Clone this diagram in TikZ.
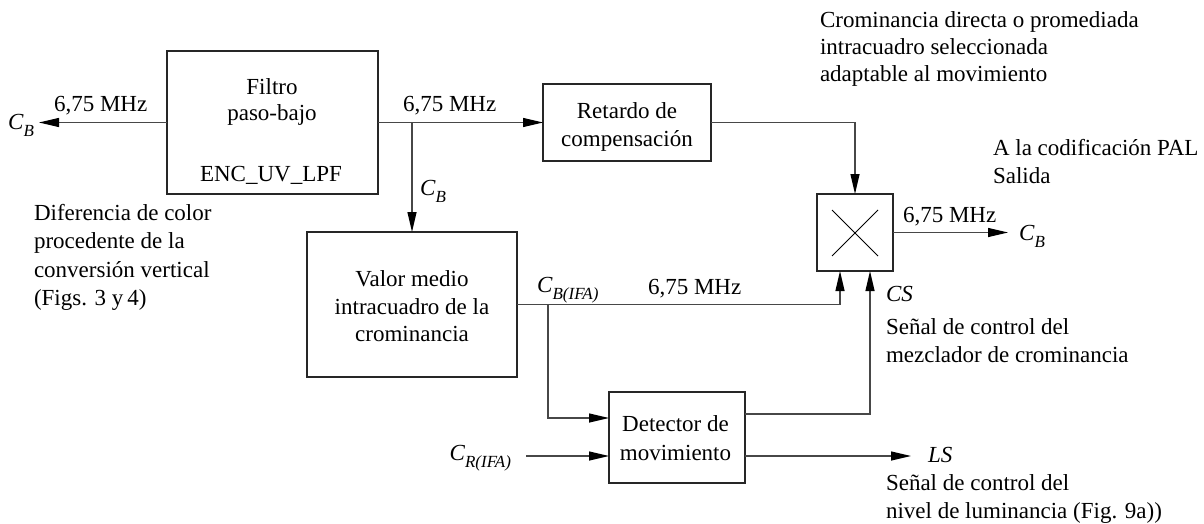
\documentclass[tikz,border=0pt]{standalone}
\usepackage{fontspec}
\setmainfont{Liberation Serif}
\usetikzlibrary{arrows.meta,calc}
% italic signal name with an italic subscript
\newcommand\sg[2]{\textit{#1}\raisebox{-7pt}{\fontsize{17}{17}\selectfont\textit{#2}}}
% stacked lines, baseline on the first line
\newcommand\lns[1]{\begin{tabular}[t]{@{}l@{}}#1\end{tabular}}
\newcommand\clns[1]{\begin{tabular}[t]{@{}c@{}}#1\end{tabular}}

\begin{document}
\begin{tikzpicture}[x=1pt,y=-1pt,
  every node/.style={font=\fontsize{23}{28.5}\selectfont, inner sep=0pt, outer sep=0pt},
  block/.style={draw=black!85, line width=1.4pt},
  sig/.style={draw=black!72, line width=1.2pt},
  arr/.style={sig, -{Triangle[length=20pt,width=9pt,color=black]}},
  cross/.style={draw=black, line width=0.9pt}]
\useasboundingbox (0,0) rectangle (1204,524);

% processing blocks
\node[block, minimum width=211pt, minimum height=143pt] (lpf) at (272.5,122.5) {};
\node[anchor=base] (lpft) at (272,95) {\clns{Filtro\\[-2.5pt]paso-bajo}};
\node[anchor=base] (lpfn) at (271,181.5) {ENC\_UV\_LPF};

\node[block, minimum width=168pt, minimum height=77pt] (dly) at (627,122.5) {};
\node[anchor=base] (dlyt) at (627,118) {\clns{Retardo de\\compensación}};

\node[block, minimum width=210pt, minimum height=145pt] (avg) at (412,304.5) {};
\node[anchor=base] (avgt) at (412,286.5) {\clns{Valor medio\\[-1pt]intracuadro de la\\[-1pt]crominancia}};

\node[block, minimum width=136pt, minimum height=91pt] (det) at (677,437.5) {};
\node[anchor=base] (dett) at (675.5,431.5) {\clns{Detector de\\movimiento}};

% mixer
\node[block, minimum width=76pt, minimum height=77pt] (mix) at (855,232.5) {};
\draw[cross] ($(mix.north west)+(15,16)$) -- ($(mix.south east)+(-15,-15)$);
\draw[cross] ($(mix.north east)+(-15,16)$) -- ($(mix.south west)+(15,-15)$);

% signal paths
\coordinate (cbin) at (39,122.5);
\coordinate (split1) at (412,122.5);
\coordinate (split2) at (548,304.5);
\coordinate (cbout) at (1008,232.5);
\coordinate (crin) at (526,456);
\coordinate (lsout) at (911,456);

\draw[arr] (lpf.west) -- (cbin);
\draw[arr] (lpf.east) -- (dly.west);
\draw[arr] (split1) -- (avg.north);
\draw[arr] (dly.east) -| (mix.north);
\draw[arr] (mix.east) -- (cbout);
\draw[arr] (avg.east) -| ([xshift=-15pt]mix.south);
\draw[arr] (split2) |- ([yshift=19.5pt]det.west);
\draw[arr] (crin) -- (det.west |- crin);
\draw[arr] ([yshift=23.5pt]det.east) -| ([xshift=15pt]mix.south);
\draw[arr] (det.east |- lsout) -- (lsout);

% signal labels
\node[anchor=base east] (cbinl) at (34,129) {\sg{C}{B}};
\node[anchor=base west] (f1) at (54,112) {6,75 MHz};
\node[anchor=base west] (f2) at (403,112) {6,75 MHz};
\node[anchor=base west] (cbl) at (420,195) {\sg{C}{B}};
\node[anchor=base west] (cbifa) at (537,292) {\sg{C}{B(IFA)}};
\node[anchor=base west] (f3) at (648,294) {6,75 MHz};
\node[anchor=base east] (crifa) at (511,460) {\sg{C}{R(IFA)}};
\node[anchor=base west] (f4) at (903,222) {6,75 MHz};
\node[anchor=base west] (cboutl) at (1019,240) {\sg{C}{B}};
\node[anchor=base west] (csl) at (886,301) {\textit{CS}};
\node[anchor=base west] (lsl) at (928,462) {\textit{LS}};

% descriptions
\node[anchor=base west] (csd) at (886,334) {\lns{Señal de control del\\mezclador de crominancia}};
\node[anchor=base west] (lsd) at (886,490) {\lns{Señal de control del\\nivel de luminancia (Fig. 9a))}};
\node[anchor=base west] (outd) at (993,155) {\lns{A la codificación PAL\\Salida}};
\node[anchor=base west] (topd) at (820,28) {\lns{Crominancia directa o promediada\\[-1.5pt]intracuadro seleccionada\\[-1.5pt]adaptable al movimiento}};
\node[anchor=base west] (srcd) at (34,220) {\lns{Diferencia de color\\procedente de la\\conversión vertical\\(Figs. 3 y\,4)}};
\end{tikzpicture}
\end{document}
